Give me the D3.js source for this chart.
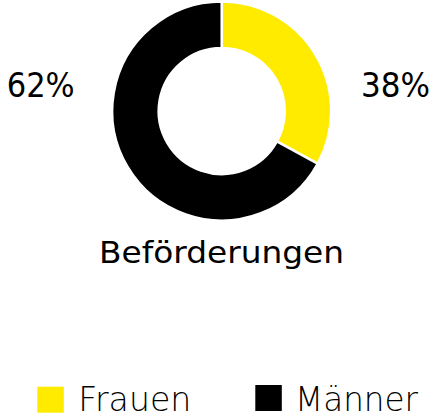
<!DOCTYPE html>
<html>
<head>
<meta charset="utf-8">
<script src="https://cdn.jsdelivr.net/npm/d3@7"></script>
<style>
  body { margin: 0; background: #fff; }
  text { font-family: "DejaVu Sans", sans-serif; fill: #000; }
</style>
</head>
<body>
<script>
const categories = ['Frauen', 'Männer']
const percentLabels = ['38%', '62%']
// slice sizes as drawn in the picture (the arcs do not follow the printed labels exactly)
const shares = [33, 67]
const colors = ['#ffeb00', '#000000']
const title = 'Beförderungen'

const width = 436, height = 418
const cx = 221.7, cy = 111
const outerR = 109.5, innerR = 63

const svg = d3.select('body').append('svg')
  .attr('width', width)
  .attr('height', height)

const pie = d3.pie().sort(null).value(d => d)
const arc = d3.arc().innerRadius(innerR).outerRadius(outerR)

const g = svg.append('g').attr('transform', `translate(${cx},${cy})`)
g.selectAll('path')
  .data(pie(shares))
  .enter().append('path')
  .attr('d', arc)
  .attr('fill', (d, i) => colors[i])
  .attr('stroke', '#fff')
  .attr('stroke-width', 2.5)

// helper: text stretched to a given width
const addText = (x, y, size, len, str, weight) => {
  svg.append('text')
    .attr('x', x).attr('y', y)
    .attr('font-size', size)
    .attr('font-weight', weight || 'normal')
    .attr('textLength', len)
    .attr('lengthAdjust', 'spacingAndGlyphs')
    .text(str)
}

// percentage labels
addText(361, 97.3, 33.5, 69, percentLabels[0])
addText(6.7, 97.3, 33.5, 68, percentLabels[1])

// title below the donut
addText(99, 262.8, 30.5, 245, title)

// legend
const legendPos = [
  {x: 37.3, y: 386.7, tx: 78.3, ty: 411.3, len: 113},
  {x: 255.3, y: 385, tx: 295, ty: 410.5, len: 123}
]
legendPos.forEach((l, i) => {
  svg.append('rect')
    .attr('x', l.x).attr('y', l.y)
    .attr('width', 26.5).attr('height', 26)
    .attr('fill', colors[i])
  addText(l.tx, l.ty, 33, l.len, categories[i], 300)
})
</script>
</body>
</html>
